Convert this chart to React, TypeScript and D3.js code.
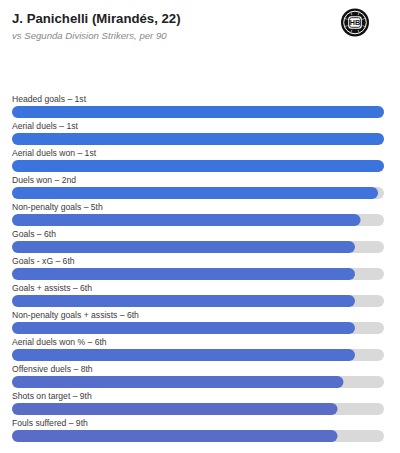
import React from "react";
import * as d3 from "d3";

const title = "J. Panichelli (Mirandés, 22)";
const subtitle = "vs Segunda Division Strikers, per 90";

const metrics = [
  "Headed goals",
  "Aerial duels",
  "Aerial duels won",
  "Duels won",
  "Non-penalty goals",
  "Goals",
  "Goals - xG",
  "Goals + assists",
  "Non-penalty goals + assists",
  "Aerial duels won %",
  "Offensive duels",
  "Shots on target",
  "Fouls suffered",
];
const ranks = ["1st", "1st", "1st", "2nd", "5th", "6th", "6th", "6th", "6th", "6th", "8th", "9th", "9th"];
const percentiles = [100, 100, 100, 98.4, 93.7, 92.2, 92.2, 92.2, 92.2, 92.2, 89.1, 87.5, 87.5];

const W = 400;
const H = 453;

export default function App() {
  const left = 12;
  const right = 384;
  const barH = 12;
  const x = d3.scaleLinear().domain([0, 100]).range([left, right]);
  const y = d3
    .scaleBand<number>()
    .domain(d3.range(metrics.length))
    .range([106, 106 + 27 * metrics.length])
    .paddingInner(0)
    .paddingOuter(0);
  const color = d3
    .scaleLinear<string>()
    .domain([87, 100])
    .range(["#5a6dc6", "#3c74de"])
    .interpolate(d3.interpolateRgb)
    .clamp(true);

  const font = "'Liberation Sans', Arial, Helvetica, sans-serif";

  return (
    <svg
      width={W}
      height={H}
      style={{ position: "absolute", left: 0, top: 0, background: "#fff" }}
      fontFamily={font}
    >
      <rect width={W} height={H} fill="#fff" />
      <text x={12} y={23} fontSize={13.2} fontWeight="bold" fill="#222">
        {title}
      </text>
      <text x={12} y={39} fontSize={9.6} fontStyle="italic" fill="#888">
        {subtitle}
      </text>

      {/* logo */}
      <g transform="translate(355,22.5)">
        <circle r={14} fill="#111" />
        <circle r={11.3} fill="none" stroke="#fff" strokeWidth={1} />
        {d3.range(8).map((i) => {
          const a = (i * Math.PI) / 4 + Math.PI / 8;
          return (
            <line
              key={i}
              x1={Math.cos(a) * 8}
              y1={Math.sin(a) * 8}
              x2={Math.cos(a) * 11.3}
              y2={Math.sin(a) * 11.3}
              stroke="#fff"
              strokeWidth={0.6}
            />
          );
        })}
        <rect x={-6.8} y={-6.2} width={13.6} height={12.4} rx={3} fill="#fff" />
        <rect
          x={-5.4}
          y={-4.8}
          width={10.8}
          height={9.6}
          rx={2}
          fill="#fff"
          stroke="#111"
          strokeWidth={0.9}
        />
        <text
          x={0}
          y={2.7}
          textAnchor="middle"
          fontSize={7.2}
          fontWeight="bold"
          fill="#111"
        >
          HB
        </text>
      </g>

      {metrics.map((m, i) => {
        const top = y(i) as number;
        const v = percentiles[i];
        return (
          <g key={m}>
            <text x={left} y={top - 3.8} fontSize={8.6} fill="#3a3a3a">
              {`${m} – ${ranks[i]}`}
            </text>
            <rect
              x={x(0)}
              y={top}
              width={x(100) - x(0)}
              height={barH}
              rx={barH / 2}
              fill="#d9d9d9"
            />
            <rect
              x={x(0)}
              y={top}
              width={x(v) - x(0)}
              height={barH}
              rx={barH / 2}
              fill={color(v)}
            />
          </g>
        );
      })}
    </svg>
  );
}
